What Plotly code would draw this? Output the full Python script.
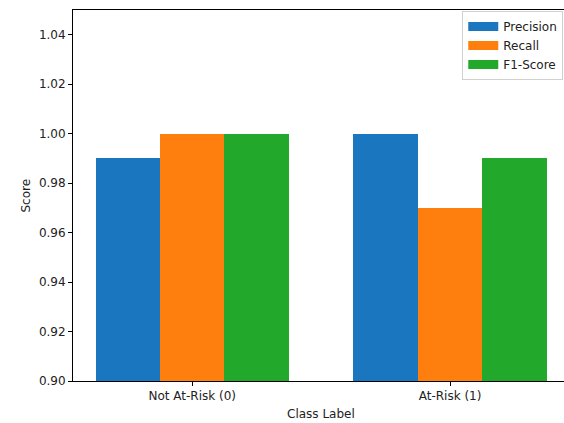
import plotly.graph_objects as go

categories = ["Not At-Risk (0)", "At-Risk (1)"]
precision = [0.99, 1.00]
recall = [1.00, 0.97]
f1_score = [1.00, 0.99]
series_names = ["Precision", "Recall", "F1-Score"]
y_ticks = [0.90, 0.92, 0.94, 0.96, 0.98, 1.00, 1.02, 1.04]

colors = ["#1a77bf", "#ff7f0e", "#22a82a"]
series = [precision, recall, f1_score]
width = 0.25
xpos = list(range(len(categories)))

fig = go.Figure()
for i, (name, vals) in enumerate(zip(series_names, series)):
    offs = (i - 1) * width
    fig.add_trace(go.Bar(
        x=[p + offs for p in xpos], y=vals, width=width,
        marker=dict(color=colors[i], line=dict(width=0)),
        name=name, showlegend=False,
    ))
# legend proxies (wide patches like matplotlib)
for i, name in enumerate(series_names):
    fig.add_trace(go.Scatter(
        x=[None], y=[None], mode="lines", name=name,
        line=dict(color=colors[i], width=9),
    ))

font = "DejaVu Sans, sans-serif"
fig.update_layout(
    width=564, height=423,
    margin=dict(l=73, r=0, t=10, b=42),
    paper_bgcolor="white", plot_bgcolor="white",
    font=dict(family=font, size=12, color="#222"),
    barmode="overlay", bargap=0,
    legend=dict(
        x=0.9985, y=0.997, xanchor="right", yanchor="top",
        bgcolor="white", bordercolor="#d0d0d0", borderwidth=1,
        font=dict(size=12, family=font, color="#222"),
        itemwidth=30, tracegroupgap=0,
    ),
    xaxis=dict(
        range=[-0.4625, 1.442],
        tickmode="array", tickvals=xpos, ticktext=categories,
        showgrid=False, zeroline=False,
        showline=True, linecolor="black", linewidth=1, mirror=True,
        ticks="outside", ticklen=4, tickcolor="black", tickwidth=1,
    ),
    yaxis=dict(
        range=[0.90, 1.05],
        tickmode="array", tickvals=y_ticks,
        ticktext=[f"{v:.2f}" for v in y_ticks],
        showgrid=False, zeroline=False,
        showline=True, linecolor="black", linewidth=1, mirror=False,
        ticks="outside", ticklen=4, tickcolor="black", tickwidth=1,
    ),
    annotations=[
        dict(text="Class Label", x=0.5, xref="x", y=0, yref="paper",
             xanchor="center", yanchor="top", yshift=-24, showarrow=False,
             font=dict(size=12, family=font, color="#222")),
        dict(text="Score", x=0, xref="paper", y=0.5, yref="paper",
             xanchor="center", yanchor="middle", xshift=-48, textangle=-90,
             showarrow=False, font=dict(size=12, family=font, color="#222")),
    ],
)

fig.write_html(
    "out.html",
    config={"displayModeBar": False},
    post_script="document.body.style.margin='0';document.body.style.overflow='hidden';",
)
